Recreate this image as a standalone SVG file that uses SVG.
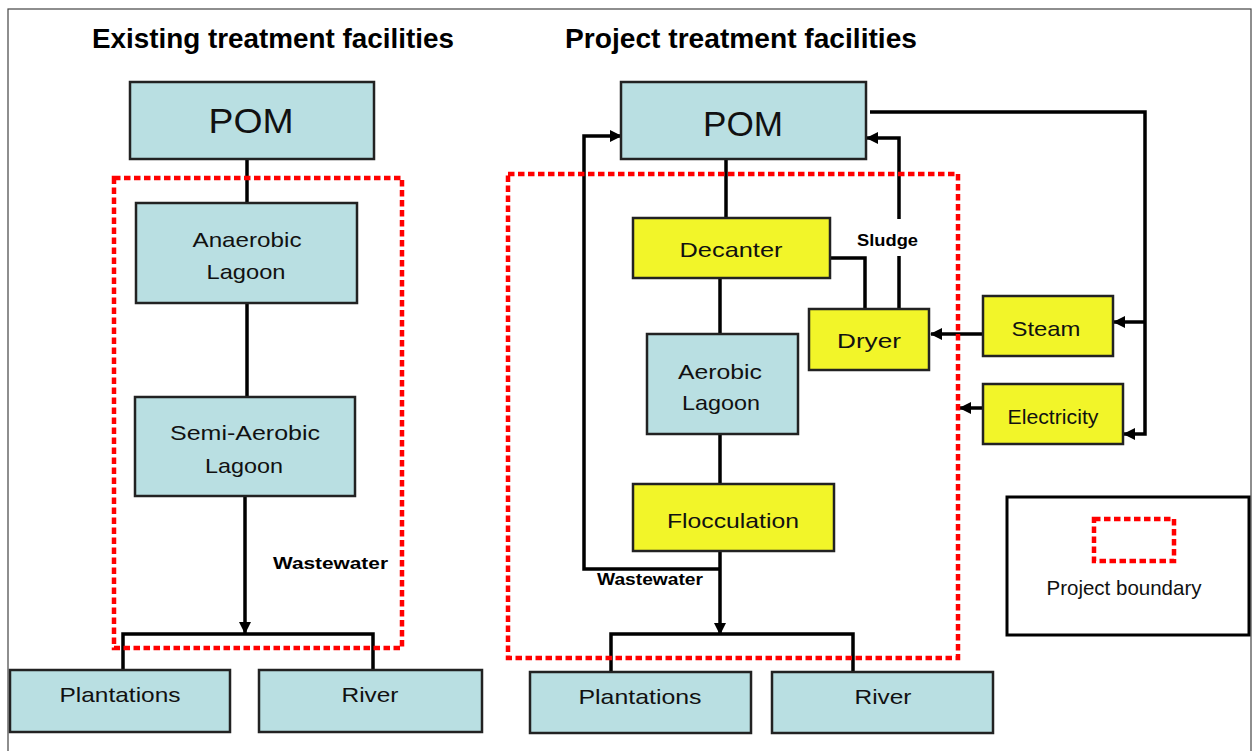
<svg xmlns="http://www.w3.org/2000/svg" width="1256" height="751" viewBox="0 0 1256 751">
<defs>
<marker id="arr" markerUnits="userSpaceOnUse" markerWidth="12" markerHeight="12" refX="11" refY="6" orient="auto">
<path d="M0,0 L12,6 L0,12 z" fill="#000"/>
</marker>
<style>
.blue{fill:#B9DFE2;stroke:#222;stroke-width:2.5}
.yel{fill:#F2F529;stroke:#222;stroke-width:2.5}
.lbl{font-family:"Liberation Sans",Arial,sans-serif;font-size:21px;fill:#111;text-anchor:middle}
.big{font-family:"Liberation Sans",Arial,sans-serif;font-size:35px;fill:#111;text-anchor:middle}
.title{font-family:"Liberation Sans",Arial,sans-serif;font-size:28px;font-weight:bold;fill:#000}
.bold{font-family:"Liberation Sans",Arial,sans-serif;font-size:16px;font-weight:bold;fill:#000}
.conn{fill:none;stroke:#000;stroke-width:3.5}
.bound{fill:none;stroke:#FF0000;stroke-width:4.5;stroke-dasharray:6.5 3.5}
</style>
</defs>
<rect x="8" y="9" width="1243" height="760" fill="#fff" stroke="#444" stroke-width="1.2"/>
<text class="title" x="92" y="48" textLength="362" lengthAdjust="spacingAndGlyphs">Existing treatment facilities</text>
<text class="title" x="565" y="48" textLength="352" lengthAdjust="spacingAndGlyphs">Project treatment facilities</text>

<g id="connectors">
<path class="conn" d="M247,159 V203"/>
<path class="conn" d="M247,303 V397"/>
<path class="conn" d="M245,496 V633" marker-end="url(#arr)"/>
<path class="conn" d="M123,670 V634 H373 V670"/>
<path class="conn" d="M726,159 V218"/>
<path class="conn" d="M720,278 V334"/>
<path class="conn" d="M720,434 V484"/>
<path class="conn" d="M720,551 V634" marker-end="url(#arr)"/>
<path class="conn" d="M611,672 V634 H853 V672"/>
<path class="conn" d="M720,569 H584 V136 H621" marker-end="url(#arr)"/>
<path class="conn" d="M830,258 H865 V309"/>
<path class="conn" d="M899,309 V256"/>
<path class="conn" d="M899,219 V138 H867" marker-end="url(#arr)"/>
<path class="conn" d="M870,112 H1145 V434 H1124" marker-end="url(#arr)"/>
<path class="conn" d="M1145,322 H1114" marker-end="url(#arr)"/>
<path class="conn" d="M983,334 H931" marker-end="url(#arr)"/>
<path class="conn" d="M983,408 H960" marker-end="url(#arr)"/>
</g>

<rect class="bound" x="114" y="178" width="288" height="470"/>
<rect class="bound" x="508" y="174" width="450" height="484"/>

<text class="bold" x="273" y="569" textLength="115" lengthAdjust="spacingAndGlyphs">Wastewater</text>
<text class="bold" x="597" y="585" textLength="106" lengthAdjust="spacingAndGlyphs">Wastewater</text>
<text class="bold" x="857" y="246" textLength="61" lengthAdjust="spacingAndGlyphs">Sludge</text>

<g id="pom-existing"><rect class="blue" x="130" y="82" width="244" height="77"/><text class="big" x="251" y="133" textLength="85" lengthAdjust="spacingAndGlyphs">POM</text></g>
<g id="anaerobic"><rect class="blue" x="136" y="203" width="221" height="100"/><text class="lbl" x="247" y="247" textLength="109" lengthAdjust="spacingAndGlyphs">Anaerobic</text><text class="lbl" x="246" y="279" textLength="79" lengthAdjust="spacingAndGlyphs">Lagoon</text></g>
<g id="semi-aerobic"><rect class="blue" x="135" y="397" width="220" height="99"/><text class="lbl" x="245" y="440" textLength="150" lengthAdjust="spacingAndGlyphs">Semi-Aerobic</text><text class="lbl" x="244" y="473" textLength="78" lengthAdjust="spacingAndGlyphs">Lagoon</text></g>
<g id="plantations-existing"><rect class="blue" x="10" y="670" width="220" height="62"/><text class="lbl" x="120" y="702" textLength="121" lengthAdjust="spacingAndGlyphs">Plantations</text></g>
<g id="river-existing"><rect class="blue" x="259" y="670" width="223" height="62"/><text class="lbl" x="370" y="702" textLength="57" lengthAdjust="spacingAndGlyphs">River</text></g>

<g id="pom-project"><rect class="blue" x="621" y="82" width="245" height="77"/><text class="big" x="743" y="136" textLength="80" lengthAdjust="spacingAndGlyphs">POM</text></g>
<g id="decanter"><rect class="yel" x="633" y="218" width="197" height="60"/><text class="lbl" x="731" y="257" textLength="103" lengthAdjust="spacingAndGlyphs">Decanter</text></g>
<g id="dryer"><rect class="yel" x="809" y="309" width="120" height="61"/><text class="lbl" x="869" y="348" textLength="64" lengthAdjust="spacingAndGlyphs">Dryer</text></g>
<g id="aerobic"><rect class="blue" x="647" y="334" width="151" height="100"/><text class="lbl" x="720" y="379" textLength="84" lengthAdjust="spacingAndGlyphs">Aerobic</text><text class="lbl" x="721" y="410" textLength="78" lengthAdjust="spacingAndGlyphs">Lagoon</text></g>
<g id="flocculation"><rect class="yel" x="633" y="484" width="201" height="67"/><text class="lbl" x="733" y="528" textLength="132" lengthAdjust="spacingAndGlyphs">Flocculation</text></g>
<g id="plantations-project"><rect class="blue" x="530" y="672" width="221" height="61"/><text class="lbl" x="640" y="704" textLength="123" lengthAdjust="spacingAndGlyphs">Plantations</text></g>
<g id="river-project"><rect class="blue" x="772" y="672" width="221" height="61"/><text class="lbl" x="883" y="704" textLength="57" lengthAdjust="spacingAndGlyphs">River</text></g>
<g id="steam"><rect class="yel" x="983" y="296" width="130" height="60"/><text class="lbl" x="1046" y="336" textLength="69" lengthAdjust="spacingAndGlyphs">Steam</text></g>
<g id="electricity"><rect class="yel" x="983" y="384" width="140" height="60"/><text class="lbl" x="1053" y="424" font-size="19" textLength="91" lengthAdjust="spacingAndGlyphs">Electricity</text></g>

<g id="legend">
<rect x="1007" y="497" width="242" height="138" fill="#fff" stroke="#000" stroke-width="3"/>
<rect class="bound" x="1094" y="519" width="80" height="42" stroke-width="4"/>
<text class="lbl" x="1124" y="595" font-size="16" textLength="155" lengthAdjust="spacingAndGlyphs">Project boundary</text>
</g>
</svg>
